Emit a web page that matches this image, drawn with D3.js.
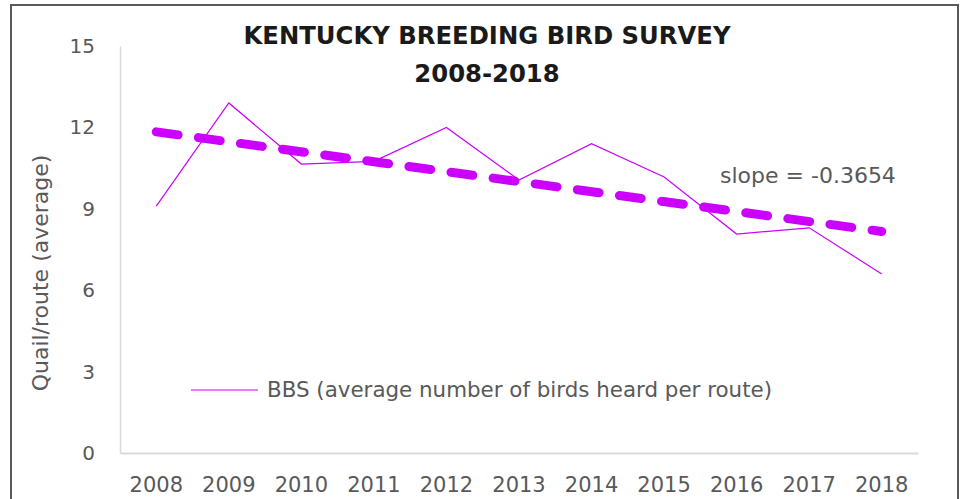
<!DOCTYPE html>
<html>
<head>
<meta charset="utf-8">
<script src="https://cdn.jsdelivr.net/npm/d3@7"></script>
<style>
  body { margin: 0; background: #fff; }
  text { font-family: "DejaVu Sans", "Lato", sans-serif; }
</style>
</head>
<body>
<svg id="chart" width="961" height="499"></svg>
<script>
// chart data ============================================================
var years = ["2008", "2009", "2010", "2011", "2012", "2013", "2014", "2015", "2016", "2017", "2018"];
var quail = [9.1, 12.9, 10.65, 10.75, 12.0, 10.06, 11.4, 10.17, 8.07, 8.3, 6.6];
var yTicks = [0, 3, 6, 9, 12, 15];
var titleLines = ["KENTUCKY BREEDING BIRD SURVEY", "2008-2018"];
var seriesName = "BBS (average number of birds heard per route)";
var slopeLabel = "slope = -0.3654";

var svg = d3.select("#chart");
var purple = "#cc00ff";
var grey = "#595959";

// outer frame (bottom edge is cut off in the original)
svg.append("rect")
  .attr("x", 11).attr("y", 5)
  .attr("width", 947).attr("height", 520)
  .attr("fill", "none")
  .attr("stroke", grey)
  .attr("stroke-width", 2);

// scales
var x = d3.scaleBand().domain(years).range([120, 918]).padding(0);
var y = d3.scaleLinear().domain([0, 15]).range([453, 46]);
var cx = function(d) { return x(d) + x.bandwidth() / 2; };

// y axis
var yAxis = svg.append("g")
  .attr("transform", "translate(120,0)")
  .call(d3.axisLeft(y).tickValues(yTicks).tickSize(0).tickSizeOuter(0).tickPadding(25));
yAxis.select(".domain").attr("stroke", "#d9d9d9").attr("stroke-width", 1.5);
yAxis.selectAll("text")
  .attr("fill", grey)
  .style("font-size", "20px");

// x axis
var xAxis = svg.append("g")
  .attr("transform", "translate(0,453)")
  .call(d3.axisBottom(x).tickSize(0).tickSizeOuter(0).tickPadding(24));
xAxis.select(".domain").attr("stroke", "#d9d9d9").attr("stroke-width", 2);
xAxis.selectAll("text")
  .attr("fill", grey)
  .style("font-size", "21px");

// y axis title
svg.append("text")
  .attr("transform", "translate(48,273) rotate(-90)")
  .attr("text-anchor", "middle")
  .attr("fill", grey)
  .style("font-size", "22px")
  .text("Quail/route (average)");

// title
svg.selectAll("text.title")
  .data(titleLines)
  .enter().append("text")
  .attr("class", "title")
  .attr("x", 487)
  .attr("y", function(d, i) { return 44 + i * 38; })
  .attr("text-anchor", "middle")
  .attr("fill", "#1a1a1a")
  .style("font-size", "24.3px")
  .style("font-weight", "bold")
  .text(function(d) { return d; });

// series line
var pts = years.map(function(d, i) { return { year: d, v: quail[i] }; });
var line = d3.line()
  .x(function(d) { return cx(d.year); })
  .y(function(d) { return y(d.v); });

svg.append("path")
  .datum(pts)
  .attr("d", line)
  .attr("fill", "none")
  .attr("stroke", purple)
  .attr("stroke-width", 1.2);

// linear trend (least squares over year index)
var n = quail.length;
var mx = d3.mean(d3.range(n));
var my = d3.mean(quail);
var sxy = d3.sum(quail, function(v, i) { return (i - mx) * (v - my); });
var sxx = d3.sum(d3.range(n), function(i) { return (i - mx) * (i - mx); });
var slope = sxy / sxx;
var icpt = my - slope * mx;
var trend = [
  { year: years[0], v: icpt },
  { year: years[n - 1], v: icpt + slope * (n - 1) }
];

svg.append("path")
  .datum(trend)
  .attr("d", line)
  .attr("fill", "none")
  .attr("stroke", purple)
  .attr("stroke-width", 9)
  .attr("stroke-linecap", "round")
  .attr("stroke-dasharray", "22 20.5");

// slope label
svg.append("text")
  .attr("x", 720).attr("y", 183)
  .attr("fill", grey)
  .style("font-size", "22px")
  .text(slopeLabel);

// legend
svg.append("line")
  .attr("x1", 191).attr("x2", 258)
  .attr("y1", 390).attr("y2", 390)
  .attr("stroke", purple)
  .attr("stroke-width", 1.2);
svg.append("text")
  .attr("x", 267).attr("y", 397)
  .attr("fill", grey)
  .style("font-size", "21.4px")
  .text(seriesName);
</script>
</body>
</html>
